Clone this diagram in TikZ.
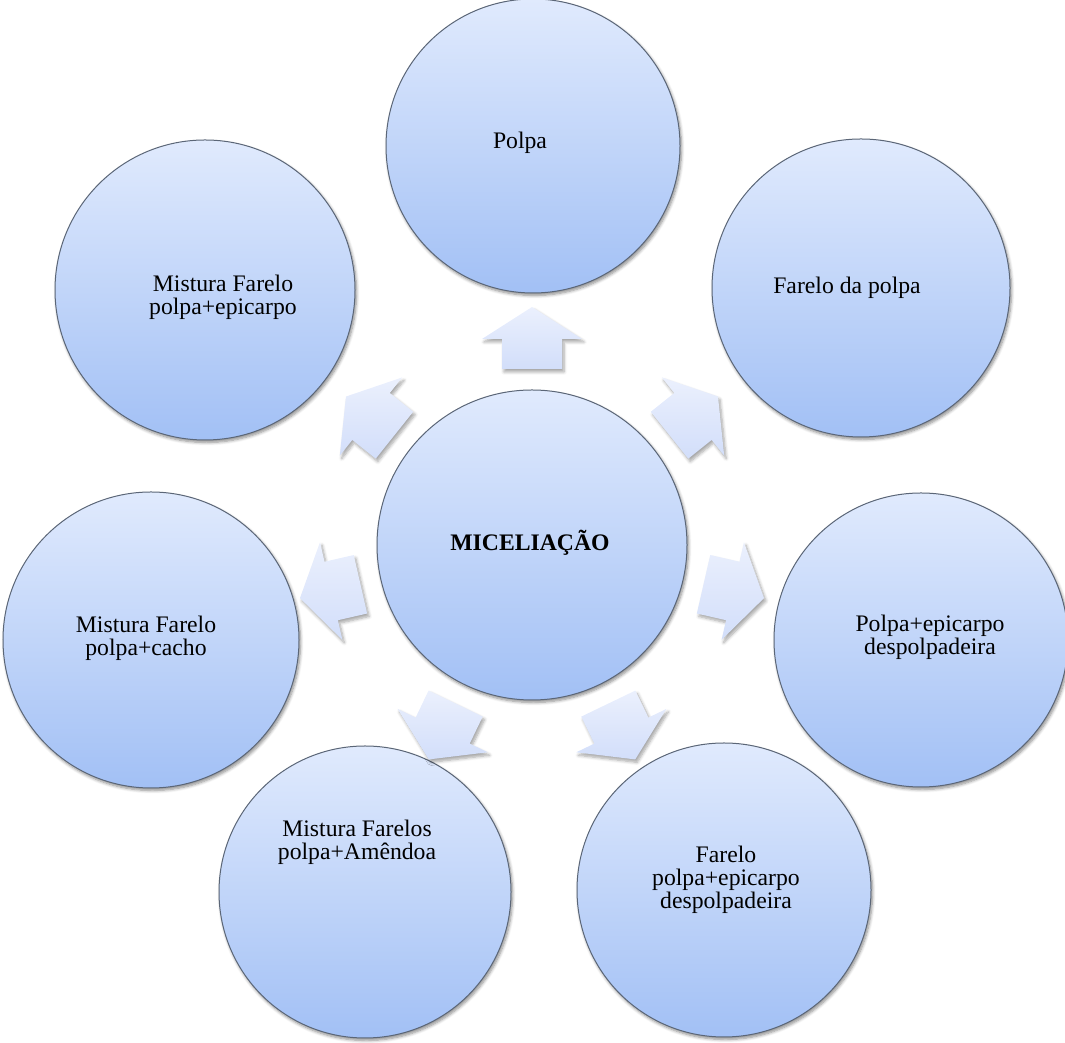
\documentclass[tikz,border=0pt]{standalone}
\usepackage{fontspec}
\setmainfont{Liberation Serif}
\usetikzlibrary{calc,shadows.blur}

\definecolor{discTop}{HTML}{E0EAFD}
\definecolor{discBot}{HTML}{A2C0F5}
\definecolor{discLine}{HTML}{5B6677}
\definecolor{arrTop}{HTML}{EBF0FD}
\definecolor{arrBot}{HTML}{D2DEFA}

\tikzset{
  disc/.style={circle, draw=discLine, line width=1pt,
    top color=discTop, bottom color=discBot,
    minimum size=#1, inner sep=0pt,
    blur shadow={shadow xshift=1.5pt, shadow yshift=-2.5pt,
      shadow blur radius=3pt, shadow blur steps=6, shadow opacity=45}},
  disctext/.style={align=center, font=\fontsize{23.7}{23.3}\selectfont,
    text=black, inner sep=0pt},
  blockarrow/.style={top color=arrTop, bottom color=arrBot,
    blur shadow={shadow xshift=2pt, shadow yshift=-3pt,
      shadow blur radius=3pt, shadow blur steps=6, shadow opacity=35}},
}

\begin{document}
\begin{tikzpicture}[x=1pt, y=1pt]
  \useasboundingbox (0,0) rectangle (1065,1043);

  % hub and surrounding discs
  \node[disc=310] (hub) at (532,498) {};
  \node[disc=294] (polpa)   at (533,897) {};
  \node[disc=298] (farelo)  at (861,755) {};
  \node[disc=294] (despolp) at (921,403) {};
  \node[disc=294] (fareloep) at (724,153) {};
  \node[disc=292] (amendoa) at (365,151) {};
  \node[disc=296] (cacho)   at (151,403) {};
  \node[disc=300] (epic)    at (205,753) {};

  % outward block arrows
  \foreach \a/\nm in {90/a1, 38.6/a2, -12.9/a3, -64.3/a4, -115.7/a5, -167.1/a6, 141.4/a7}{
    \path[blockarrow]
      ($(hub)+(\a:176)+(\a+90:30)$) --
      ($(hub)+(\a:206)+(\a+90:30)$) --
      ($(hub)+(\a:206)+(\a+90:50)$) --
      ($(hub)+(\a:238)$) coordinate (\nm) --
      ($(hub)+(\a:206)+(\a-90:50)$) --
      ($(hub)+(\a:206)+(\a-90:30)$) --
      ($(hub)+(\a:176)+(\a-90:30)$) -- cycle;
  }

  % labels
  \node[disctext, font=\fontsize{23.7}{23.3}\selectfont\bfseries] (thub) at (530,500) {MICELIAÇÃO};
  \node[disctext] (tpolpa)   at (520,900) {Polpa};
  \node[disctext] (tfarelo)  at (847,755) {Farelo da polpa};
  \node[disctext] (tdespolp) at (930,406) {Polpa+epicarpo\\despolpadeira};
  \node[disctext] (tfareloep) at (726,163) {Farelo\\polpa+epicarpo\\despolpadeira};
  \node[disctext] (tamendoa) at (357,201) {Mistura Farelos\\polpa+Amêndoa};
  \node[disctext] (tcacho)   at (146,405) {Mistura Farelo\\polpa+cacho};
  \node[disctext] (tepic)    at (223,746) {Mistura Farelo\\polpa+epicarpo};
\end{tikzpicture}
\end{document}
